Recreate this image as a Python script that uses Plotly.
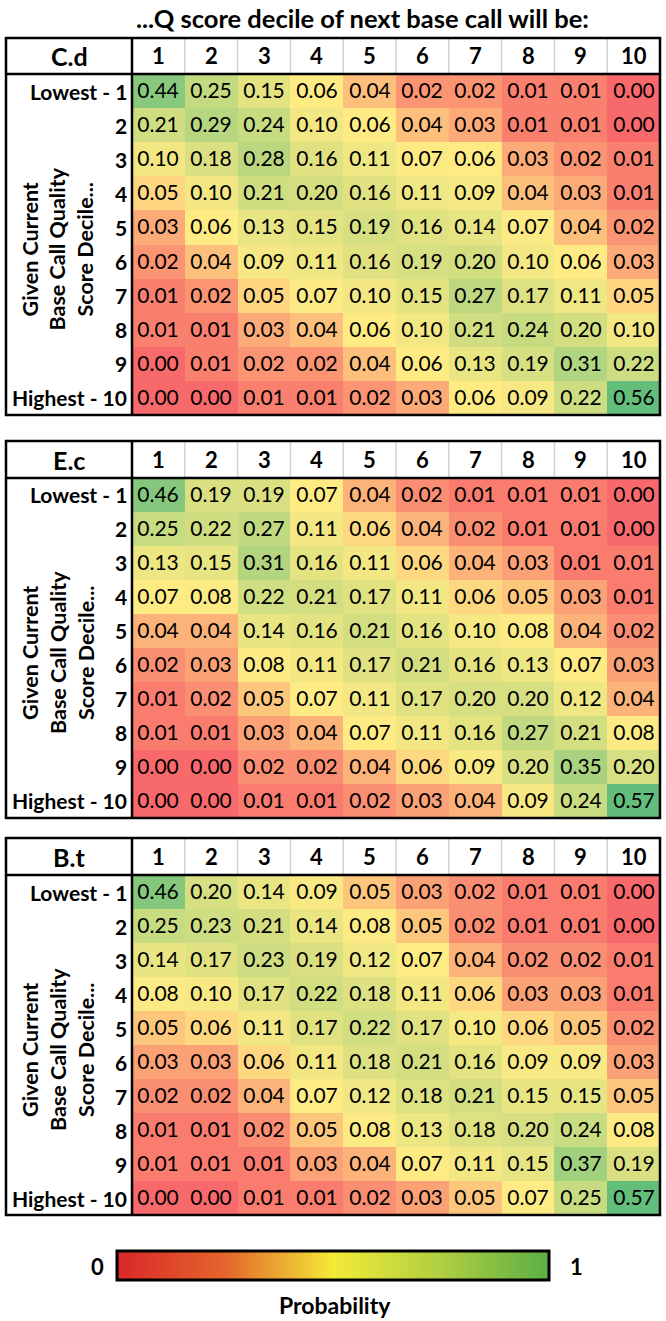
import numpy as np
import plotly.graph_objects as go

W, H = 666, 1321

next_deciles = [str(i) for i in range(1, 11)]
row_labels = ["Lowest - 1", "2", "3", "4", "5", "6", "7", "8", "9", "Highest - 10"]
table_names = ["C.d", "E.c", "B.t"]

cd_values = [
    [0.44, 0.25, 0.15, 0.06, 0.04, 0.02, 0.02, 0.01, 0.01, 0.00],
    [0.21, 0.29, 0.24, 0.10, 0.06, 0.04, 0.03, 0.01, 0.01, 0.00],
    [0.10, 0.18, 0.28, 0.16, 0.11, 0.07, 0.06, 0.03, 0.02, 0.01],
    [0.05, 0.10, 0.21, 0.20, 0.16, 0.11, 0.09, 0.04, 0.03, 0.01],
    [0.03, 0.06, 0.13, 0.15, 0.19, 0.16, 0.14, 0.07, 0.04, 0.02],
    [0.02, 0.04, 0.09, 0.11, 0.16, 0.19, 0.20, 0.10, 0.06, 0.03],
    [0.01, 0.02, 0.05, 0.07, 0.10, 0.15, 0.27, 0.17, 0.11, 0.05],
    [0.01, 0.01, 0.03, 0.04, 0.06, 0.10, 0.21, 0.24, 0.20, 0.10],
    [0.00, 0.01, 0.02, 0.02, 0.04, 0.06, 0.13, 0.19, 0.31, 0.22],
    [0.00, 0.00, 0.01, 0.01, 0.02, 0.03, 0.06, 0.09, 0.22, 0.56],
]
ec_values = [
    [0.46, 0.19, 0.19, 0.07, 0.04, 0.02, 0.01, 0.01, 0.01, 0.00],
    [0.25, 0.22, 0.27, 0.11, 0.06, 0.04, 0.02, 0.01, 0.01, 0.00],
    [0.13, 0.15, 0.31, 0.16, 0.11, 0.06, 0.04, 0.03, 0.01, 0.01],
    [0.07, 0.08, 0.22, 0.21, 0.17, 0.11, 0.06, 0.05, 0.03, 0.01],
    [0.04, 0.04, 0.14, 0.16, 0.21, 0.16, 0.10, 0.08, 0.04, 0.02],
    [0.02, 0.03, 0.08, 0.11, 0.17, 0.21, 0.16, 0.13, 0.07, 0.03],
    [0.01, 0.02, 0.05, 0.07, 0.11, 0.17, 0.20, 0.20, 0.12, 0.04],
    [0.01, 0.01, 0.03, 0.04, 0.07, 0.11, 0.16, 0.27, 0.21, 0.08],
    [0.00, 0.00, 0.02, 0.02, 0.04, 0.06, 0.09, 0.20, 0.35, 0.20],
    [0.00, 0.00, 0.01, 0.01, 0.02, 0.03, 0.04, 0.09, 0.24, 0.57],
]
bt_values = [
    [0.46, 0.20, 0.14, 0.09, 0.05, 0.03, 0.02, 0.01, 0.01, 0.00],
    [0.25, 0.23, 0.21, 0.14, 0.08, 0.05, 0.02, 0.01, 0.01, 0.00],
    [0.14, 0.17, 0.23, 0.19, 0.12, 0.07, 0.04, 0.02, 0.02, 0.01],
    [0.08, 0.10, 0.17, 0.22, 0.18, 0.11, 0.06, 0.03, 0.03, 0.01],
    [0.05, 0.06, 0.11, 0.17, 0.22, 0.17, 0.10, 0.06, 0.05, 0.02],
    [0.03, 0.03, 0.06, 0.11, 0.18, 0.21, 0.16, 0.09, 0.09, 0.03],
    [0.02, 0.02, 0.04, 0.07, 0.12, 0.18, 0.21, 0.15, 0.15, 0.05],
    [0.01, 0.01, 0.02, 0.05, 0.08, 0.13, 0.18, 0.20, 0.24, 0.08],
    [0.01, 0.01, 0.01, 0.03, 0.04, 0.07, 0.11, 0.15, 0.37, 0.19],
    [0.00, 0.00, 0.01, 0.01, 0.02, 0.03, 0.05, 0.07, 0.25, 0.57],
]
all_values = [cd_values, ec_values, bt_values]

legend_ends = [0, 1]
legend_ticks = ["0", "1"]

# Layout in pixels
LEFT, LABEL_R, RIGHT = 6, 132, 660
tables_px = [(38, 74, 415), (441, 478, 818), (838, 875, 1215)]  # top, header bottom, bottom


def px_x(v):
    return v / W


def px_y(v):
    return 1 - v / H


FONT = "Lato"
RED, YEL, GRN = "#F8696B", "#FFEB84", "#63BE7B"

fig = go.Figure()
annotations = []
shapes = []


def note(**kw):
    kw.setdefault("xanchor", "center")
    kw.setdefault("yanchor", "middle")
    kw.setdefault("showarrow", False)
    annotations.append(kw)


for i, (name, vals, (top, hb, bot)) in enumerate(zip(table_names, all_values, tables_px)):
    z = np.array(vals)
    zmin, zmax = z.min(), z.max()
    mid = (np.percentile(z, 50) - zmin) / (zmax - zmin)
    cs = [[0, RED], [mid, YEL], [1, GRN]]
    k = "" if i == 0 else str(i + 1)
    fig.add_trace(go.Heatmap(
        z=z, x=list(range(10)), y=list(range(10)),
        colorscale=cs, zmin=zmin, zmax=zmax, showscale=False,
        texttemplate="%{z:.2f}", textfont=dict(family=FONT, size=21, color="black"),
        hoverinfo="skip", xaxis="x" + k, yaxis="y" + k,
    ))
    fig.update_layout(**{
        "xaxis" + k: dict(domain=[px_x(LABEL_R), px_x(RIGHT)], range=[-0.5, 9.5],
                          visible=False, anchor="y" + k, fixedrange=True),
        "yaxis" + k: dict(domain=[px_y(bot), px_y(hb)], range=[9.5, -0.5],
                          visible=False, anchor="x" + k, fixedrange=True),
    })
    # header labels
    note(x=px_x((LEFT + LABEL_R) / 2), y=px_y((top + hb) / 2), xref="paper", yref="paper",
         text="<b>%s</b>" % name, font=dict(family=FONT, size=25, color="black"))
    for j, lab in enumerate(next_deciles):
        note(x=j, y=px_y((top + hb) / 2), xref="x" + k, yref="paper",
             text="<b>%s</b>" % lab, font=dict(family=FONT, size=22, color="black"))
    for r, lab in enumerate(row_labels):
        note(x=px_x(LABEL_R - 3), y=r, xref="paper", yref="y" + k,
             text="<b>%s</b>" % lab, xanchor="right",
             font=dict(family=FONT, size=21, color="black"))
    note(x=px_x(58), y=px_y((hb + bot) / 2 + 4), xref="paper", yref="paper",
         text="<b>Given Current<br>Base Call Quality<br>Score Decile...</b>", textangle=-90,
         font=dict(family=FONT, size=21.5, color="black"))
    # header grid lines (thin gray)
    cw = (RIGHT - LABEL_R) / 10
    for j in range(1, 10):
        xx = LABEL_R + j * cw
        shapes.append(dict(type="line", xref="paper", yref="paper",
                           x0=px_x(xx), x1=px_x(xx), y0=px_y(top), y1=px_y(hb),
                           line=dict(color="#D0D0D0", width=1.5)))
    # thick separators
    shapes.append(dict(type="line", xref="paper", yref="paper",
                       x0=px_x(LEFT), x1=px_x(RIGHT), y0=px_y(hb), y1=px_y(hb),
                       line=dict(color="black", width=2.5)))
    shapes.append(dict(type="line", xref="paper", yref="paper",
                       x0=px_x(LABEL_R), x1=px_x(LABEL_R), y0=px_y(top), y1=px_y(bot),
                       line=dict(color="black", width=2.5)))
    shapes.append(dict(type="rect", xref="paper", yref="paper",
                       x0=px_x(LEFT), x1=px_x(RIGHT), y0=px_y(bot), y1=px_y(top),
                       line=dict(color="black", width=2.5)))

# Title
note(x=px_x(362), y=px_y(18), xref="paper", yref="paper",
     text="<b>...Q score decile of next base call will be:</b>",
     font=dict(family=FONT, size=25.5, color="black"))

# Legend colour bar (heatmap in its own axes, interpolated between the two ends)
BAR_L, BAR_R, BAR_T, BAR_B = 117, 549, 1251, 1280
legend_scale = [[0, "#D9272A"], [0.25, "#E4662B"], [0.5, "#F3EA37"], [0.75, "#AECF40"], [1, "#5CAE46"]]
fig.add_trace(go.Heatmap(
    z=[legend_ends], x=legend_ends, y=[0], colorscale=legend_scale, zmin=0, zmax=1,
    zsmooth="best", showscale=False, hoverinfo="skip", xaxis="x4", yaxis="y4",
))
fig.update_layout(
    xaxis4=dict(domain=[px_x(BAR_L), px_x(BAR_R)], range=[0, 1], visible=False, anchor="y4", fixedrange=True),
    yaxis4=dict(domain=[px_y(BAR_B), px_y(BAR_T)], range=[-0.5, 0.5], visible=False, anchor="x4", fixedrange=True),
)
shapes.append(dict(type="rect", xref="paper", yref="paper",
                   x0=px_x(BAR_L), x1=px_x(BAR_R), y0=px_y(BAR_B), y1=px_y(BAR_T),
                   line=dict(color="black", width=3)))
note(x=px_x(98), y=px_y(1266), xref="paper", yref="paper",
     text="<b>%s</b>" % legend_ticks[0], font=dict(family=FONT, size=22, color="black"))
note(x=px_x(576), y=px_y(1266), xref="paper", yref="paper",
     text="<b>%s</b>" % legend_ticks[1], font=dict(family=FONT, size=22, color="black"))
note(x=px_x(335), y=px_y(1305), xref="paper", yref="paper",
     text="<b>Probability</b>", font=dict(family=FONT, size=23, color="black"))

fig.update_layout(
    width=W, height=H, margin=dict(l=0, r=0, t=0, b=0),
    paper_bgcolor="white", plot_bgcolor="white",
    annotations=annotations, shapes=shapes, showlegend=False,
)

fig.write_html("out.html", config={"displayModeBar": False},
               post_script="document.body.style.margin='0';document.body.style.overflow='hidden';")
